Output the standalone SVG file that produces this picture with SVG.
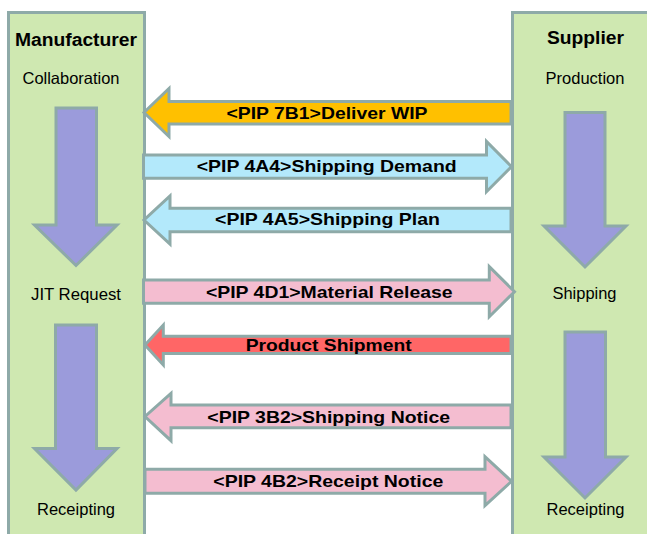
<svg xmlns="http://www.w3.org/2000/svg" width="647" height="534" viewBox="0 0 647 534">
<style>
.panel{fill:#cfe8b1;stroke:#8eaaa8;stroke-width:3}
.down{fill:#9b9bdb;stroke:#8eaaa8;stroke-width:3;stroke-linejoin:miter}
.h{stroke:#8eaaa8;stroke-width:3;stroke-linejoin:miter}
.orange{fill:#ffc000}
.blue{fill:#b3e9fb}
.pink{fill:#f4bdd0}
.red{fill:#ff6666}
.title{font-family:"Liberation Sans",Arial,sans-serif;font-weight:bold;font-size:18px;fill:#000;text-anchor:middle}
.lbl{font-family:"Liberation Sans",Arial,sans-serif;font-size:16.5px;fill:#000;text-anchor:middle}
.al{font-family:"Liberation Sans",Arial,sans-serif;font-weight:bold;font-size:17px;fill:#000;text-anchor:middle}
</style>
<rect width="647" height="534" fill="#ffffff"/>
<g id="manufacturer">
<rect class="panel" x="8.5" y="12.5" width="136" height="530"/>
<text class="title" x="76" y="46" textLength="122" lengthAdjust="spacingAndGlyphs">Manufacturer</text>
<text class="lbl" x="71" y="84" textLength="97" lengthAdjust="spacingAndGlyphs">Collaboration</text>
<polygon class="down" points="56,108 96.5,108 96.5,225 117,225 76,265.5 34.5,225 56,225"/>
<text class="lbl" x="76" y="300" textLength="90" lengthAdjust="spacingAndGlyphs">JIT Request</text>
<polygon class="down" points="55.5,325 96.5,325 96.5,448.5 117,448.5 76,490 34.5,448.5 55.5,448.5"/>
<text class="lbl" x="76" y="515" textLength="78" lengthAdjust="spacingAndGlyphs">Receipting</text>
</g>
<g id="supplier">
<rect class="panel" x="512.5" y="12.5" width="140" height="530"/>
<text class="title" x="585.5" y="44" textLength="77" lengthAdjust="spacingAndGlyphs">Supplier</text>
<text class="lbl" x="585" y="83.5" textLength="79" lengthAdjust="spacingAndGlyphs">Production</text>
<polygon class="down" points="565,112.5 605,112.5 605,226 626,226 585,267 544,226 565,226"/>
<text class="lbl" x="584.5" y="299" textLength="64" lengthAdjust="spacingAndGlyphs">Shipping</text>
<polygon class="down" points="565,332 605.5,332 605.5,457 626,457 585,498 544,457 565,457"/>
<text class="lbl" x="585.5" y="515" textLength="78" lengthAdjust="spacingAndGlyphs">Receipting</text>
</g>
<g id="connectors">
<g id="deliver-wip">
<polygon class="h orange" points="511,101.5 169,101.5 169,88.5 144,112.5 169,136.5 169,124 511,124"/>
<text class="al" x="327" y="118.5" textLength="201" lengthAdjust="spacingAndGlyphs">&lt;PIP 7B1&gt;Deliver WIP</text>
</g>
<g id="shipping-demand">
<polygon class="h blue" points="143.5,155 486.5,155 486.5,141.5 511.5,166.7 486.5,191.7 486.5,178.3 143.5,178.3"/>
<text class="al" x="326.7" y="172" textLength="260" lengthAdjust="spacingAndGlyphs">&lt;PIP 4A4&gt;Shipping Demand</text>
</g>
<g id="shipping-plan">
<polygon class="h blue" points="511,208.3 170,208.3 170,196 144,220 170,244 170,231.7 511,231.7"/>
<text class="al" x="327.5" y="225" textLength="225" lengthAdjust="spacingAndGlyphs">&lt;PIP 4A5&gt;Shipping Plan</text>
</g>
<g id="material-release">
<polygon class="h pink" points="143.5,280 489.3,280 489.3,266.7 514.5,291.7 489.3,316.7 489.3,303.3 143.5,303.3"/>
<text class="al" x="329.3" y="297.5" textLength="246.7" lengthAdjust="spacingAndGlyphs">&lt;PIP 4D1&gt;Material Release</text>
</g>
<g id="product-shipment">
<polygon class="h red" points="511,336.3 163.3,336.3 163.3,325 145,345 163.3,365 163.3,353.5 511,353.5"/>
<text class="al" x="328.7" y="351" textLength="166" lengthAdjust="spacingAndGlyphs">Product Shipment</text>
</g>
<g id="shipping-notice">
<polygon class="h pink" points="511,405 171,405 171,393.3 145,416.5 171,440.7 171,427.7 511,427.7"/>
<text class="al" x="328.7" y="423" textLength="242.7" lengthAdjust="spacingAndGlyphs">&lt;PIP 3B2&gt;Shipping Notice</text>
</g>
<g id="receipt-notice">
<polygon class="h pink" points="145,469.3 485,469.3 485,456.7 511.5,481.3 485,505.7 485,493.3 145,493.3"/>
<text class="al" x="328.3" y="487" textLength="230" lengthAdjust="spacingAndGlyphs">&lt;PIP 4B2&gt;Receipt Notice</text>
</g>
</g>
</svg>
